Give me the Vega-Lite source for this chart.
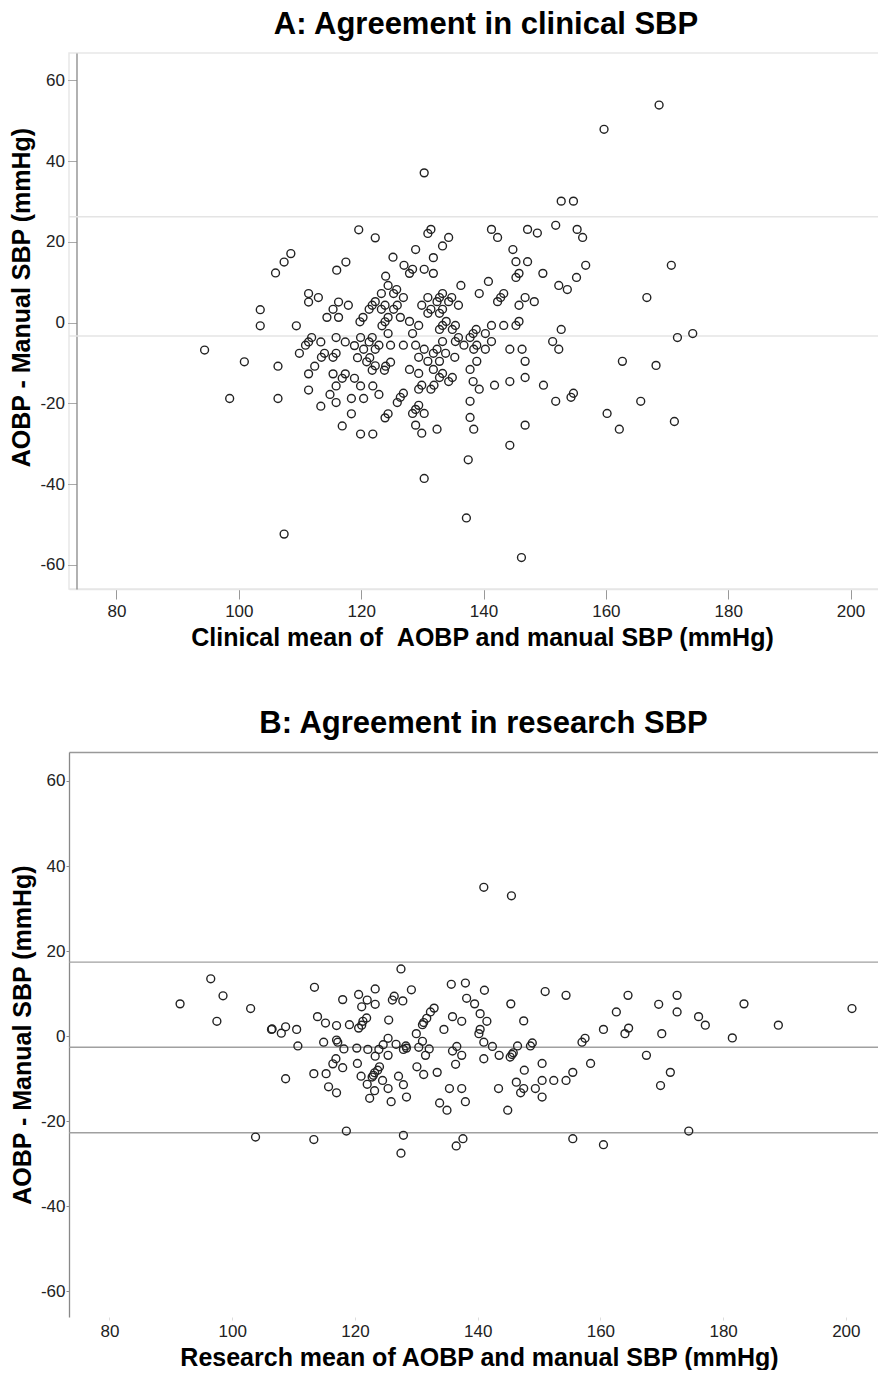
{
  "$schema": "https://vega.github.io/schema/vega-lite/v6.json",
  "background": "white",
  "padding": {"left": 8, "top": 8, "right": 0, "bottom": 0},
  "config": {
    "font": "Liberation Sans",
    "view": {"stroke": null},
    "axis": {"grid": false}
  },
  "datasets": {
    "A": [
      {"x":106.0,"y":12.3},{"x":107.4,"y":15.0},{"x":108.5,"y":17.1},
      {"x":116.0,"y":13.0},{"x":117.5,"y":15.0},{"x":119.6,"y":23.0},{"x":122.3,"y":21.0},{"x":125.2,"y":16.2},{"x":124.0,"y":11.5},
      {"x":94.4,"y":-6.8},{"x":100.9,"y":-9.7},{"x":98.5,"y":-18.8},{"x":106.4,"y":-10.8},{"x":106.4,"y":-18.8},
      {"x":103.5,"y":3.2},{"x":103.5,"y":-0.8},{"x":109.4,"y":-0.8},{"x":107.4,"y":-52.4},{"x":130.3,"y":-38.6},
      {"x":111.4,"y":7.2},{"x":111.4,"y":5.1},{"x":113.0,"y":6.2},{"x":116.3,"y":5.1},{"x":117.9,"y":4.3},{"x":115.4,"y":3.3},
      {"x":114.4,"y":1.3},{"x":116.3,"y":1.3},{"x":124.4,"y":9.2},{"x":125.8,"y":8.2},{"x":125.3,"y":7.2},{"x":123.3,"y":7.2},
      {"x":122.3,"y":5.2},{"x":121.8,"y":4.3},{"x":123.9,"y":4.3},{"x":125.9,"y":4.3},{"x":121.3,"y":3.3},{"x":123.3,"y":3.3},
      {"x":125.3,"y":3.3},{"x":120.3,"y":1.3},{"x":124.4,"y":1.3},{"x":119.8,"y":0.2},{"x":123.9,"y":0.2},{"x":123.4,"y":-0.8},
      {"x":124.4,"y":-2.7},{"x":111.9,"y":-3.7},{"x":111.4,"y":-4.8},{"x":110.9,"y":-5.6},{"x":109.9,"y":-7.6},{"x":113.4,"y":-4.8},
      {"x":115.9,"y":-3.7},{"x":117.4,"y":-4.8},{"x":118.9,"y":-5.7},{"x":119.9,"y":-3.7},{"x":120.4,"y":-6.6},{"x":121.3,"y":-4.8},
      {"x":121.8,"y":-3.7},{"x":122.3,"y":-6.6},{"x":122.9,"y":-5.6},{"x":124.8,"y":-5.6},{"x":113.5,"y":-8.6},{"x":114.0,"y":-7.6},
      {"x":115.9,"y":-7.6},{"x":115.4,"y":-8.6},{"x":112.4,"y":-10.8},{"x":111.4,"y":-12.7},{"x":119.4,"y":-8.7},{"x":120.9,"y":-9.7},
      {"x":121.4,"y":-8.7},{"x":122.3,"y":-10.7},{"x":121.8,"y":-11.8},{"x":124.0,"y":-10.8},{"x":123.8,"y":-11.8},{"x":124.8,"y":-9.8},
      {"x":115.4,"y":-12.7},{"x":117.4,"y":-12.7},{"x":116.9,"y":-13.8},{"x":118.9,"y":-13.8},{"x":115.9,"y":-15.7},{"x":111.4,"y":-16.7},
      {"x":119.9,"y":-15.7},{"x":121.9,"y":-15.7},{"x":122.9,"y":-17.8},{"x":114.9,"y":-17.8},{"x":115.9,"y":-19.8},{"x":113.4,"y":-20.7},
      {"x":118.4,"y":-18.8},{"x":120.4,"y":-18.8},{"x":125.9,"y":-19.8},{"x":118.4,"y":-22.6},{"x":123.9,"y":-23.6},{"x":124.4,"y":-22.6},
      {"x":116.9,"y":-25.6},{"x":119.9,"y":-27.6},{"x":121.9,"y":-27.6},
      {"x":130.3,"y":37.1},{"x":152.7,"y":30.1},{"x":154.7,"y":30.1},{"x":141.3,"y":23.1},{"x":147.2,"y":23.1},{"x":148.8,"y":22.2},
      {"x":151.8,"y":24.1},{"x":155.3,"y":23.1},{"x":156.2,"y":21.1},{"x":142.3,"y":21.1},{"x":130.9,"y":22.1},{"x":131.4,"y":23.1},
      {"x":134.3,"y":21.1},{"x":133.3,"y":19.0},{"x":128.9,"y":18.1},{"x":144.8,"y":18.1},{"x":131.8,"y":16.1},{"x":145.3,"y":15.1},
      {"x":147.2,"y":15.1},{"x":156.7,"y":14.2},{"x":170.7,"y":14.2},{"x":127.0,"y":14.2},{"x":128.4,"y":13.2},{"x":127.9,"y":12.2},
      {"x":130.3,"y":13.2},{"x":131.8,"y":12.2},{"x":145.8,"y":12.2},{"x":145.3,"y":11.2},{"x":149.7,"y":12.2},{"x":155.2,"y":11.2},
      {"x":152.3,"y":9.2},{"x":153.7,"y":8.2},{"x":136.3,"y":9.2},{"x":140.8,"y":10.2},{"x":139.3,"y":7.2},{"x":166.7,"y":6.2},
      {"x":126.9,"y":6.2},{"x":130.9,"y":6.2},{"x":132.8,"y":6.2},{"x":133.3,"y":7.2},{"x":134.8,"y":6.2},{"x":129.9,"y":4.3},
      {"x":131.4,"y":3.3},{"x":130.9,"y":2.3},{"x":132.4,"y":5.2},{"x":133.3,"y":3.3},{"x":132.8,"y":2.3},{"x":134.3,"y":5.2},
      {"x":135.9,"y":4.3},{"x":142.3,"y":5.2},{"x":142.8,"y":6.2},{"x":143.3,"y":7.2},{"x":145.8,"y":4.3},{"x":146.8,"y":6.2},
      {"x":148.3,"y":5.2},{"x":126.4,"y":1.3},{"x":127.9,"y":0.3},{"x":129.4,"y":-0.7},{"x":128.4,"y":-2.7},{"x":132.8,"y":-1.7},
      {"x":133.3,"y":-0.7},{"x":133.9,"y":0.3},{"x":135.4,"y":-0.7},{"x":134.9,"y":-1.7},{"x":138.3,"y":-2.7},{"x":138.8,"y":-1.7},
      {"x":140.3,"y":-2.7},{"x":141.3,"y":-0.7},{"x":143.3,"y":-0.7},{"x":145.3,"y":-0.7},{"x":145.8,"y":0.3},{"x":152.7,"y":-1.7},
      {"x":171.7,"y":-3.7},{"x":174.2,"y":-2.7},{"x":151.3,"y":-4.7},{"x":152.3,"y":-6.6},{"x":126.9,"y":-5.6},{"x":128.9,"y":-5.6},
      {"x":130.3,"y":-6.6},{"x":131.8,"y":-7.6},{"x":132.4,"y":-6.6},{"x":133.8,"y":-7.6},{"x":133.3,"y":-4.7},{"x":135.4,"y":-4.7},
      {"x":135.9,"y":-3.7},{"x":136.8,"y":-5.6},{"x":137.8,"y":-3.7},{"x":138.4,"y":-6.6},{"x":138.9,"y":-5.6},{"x":140.3,"y":-6.6},
      {"x":141.3,"y":-4.7},{"x":144.3,"y":-6.6},{"x":146.3,"y":-6.6},{"x":162.7,"y":-9.6},{"x":168.2,"y":-10.6},{"x":129.4,"y":-8.6},
      {"x":130.9,"y":-9.6},{"x":132.8,"y":-9.6},{"x":135.3,"y":-8.6},{"x":138.9,"y":-9.6},{"x":146.8,"y":-9.6},{"x":127.9,"y":-11.6},
      {"x":129.4,"y":-12.6},{"x":131.8,"y":-11.6},{"x":133.3,"y":-12.6},{"x":132.8,"y":-13.6},{"x":134.9,"y":-13.6},{"x":134.3,"y":-14.6},
      {"x":137.8,"y":-11.6},{"x":138.3,"y":-14.6},{"x":139.3,"y":-16.5},{"x":141.8,"y":-15.5},{"x":144.3,"y":-14.6},{"x":146.8,"y":-13.6},
      {"x":149.8,"y":-15.5},{"x":126.9,"y":-17.5},{"x":126.4,"y":-18.5},{"x":129.4,"y":-16.5},{"x":129.9,"y":-15.5},{"x":131.4,"y":-16.5},
      {"x":131.9,"y":-15.5},{"x":129.4,"y":-20.5},{"x":128.9,"y":-21.5},{"x":128.4,"y":-22.5},{"x":130.3,"y":-22.5},{"x":128.9,"y":-25.4},
      {"x":129.9,"y":-27.4},{"x":132.4,"y":-26.4},{"x":137.8,"y":-19.5},{"x":137.8,"y":-23.5},{"x":138.4,"y":-26.4},{"x":144.3,"y":-30.4},
      {"x":146.8,"y":-25.4},{"x":151.8,"y":-19.5},{"x":154.3,"y":-18.5},{"x":154.7,"y":-17.5},{"x":160.2,"y":-22.5},{"x":162.2,"y":-26.4},
      {"x":165.7,"y":-19.5},{"x":171.2,"y":-24.5},
      {"x":159.7,"y":47.9},{"x":168.7,"y":53.9},{"x":137.5,"y":-34.0},{"x":137.2,"y":-48.4},{"x":146.2,"y":-58.2}
    ],
    "B": [
      {"x":91.5,"y":7.6},{"x":96.5,"y":13.5},{"x":98.5,"y":9.5},{"x":97.5,"y":3.5},{"x":103.0,"y":6.5},{"x":106.4,"y":1.6},
      {"x":106.5,"y":1.7},{"x":108.0,"y":0.7},{"x":108.7,"y":2.2},{"x":110.5,"y":1.6},{"x":110.7,"y":-2.3},{"x":108.7,"y":-10.0},
      {"x":113.4,"y":11.5},{"x":113.9,"y":4.6},{"x":115.2,"y":3.1},{"x":117.0,"y":2.5},{"x":119.1,"y":2.7},{"x":114.9,"y":-1.4},
      {"x":117.0,"y":-0.9},{"x":117.2,"y":-1.4},{"x":118.2,"y":-3.0},{"x":120.3,"y":-2.8},{"x":122.1,"y":-3.1},{"x":123.9,"y":-3.1},
      {"x":125.4,"y":-0.5},{"x":124.6,"y":-2.0},{"x":126.7,"y":-1.9},{"x":127.9,"y":-3.1},{"x":128.3,"y":-2.3},{"x":128.4,"y":-2.8},
      {"x":118.0,"y":8.6},{"x":120.6,"y":9.8},{"x":122.0,"y":8.5},{"x":123.3,"y":11.1},{"x":123.3,"y":7.5},{"x":121.1,"y":6.9},
      {"x":121.9,"y":4.3},{"x":121.3,"y":3.5},{"x":120.6,"y":1.9},{"x":121.1,"y":2.6},{"x":126.1,"y":8.5},{"x":126.4,"y":9.4},
      {"x":127.8,"y":8.3},{"x":129.2,"y":10.9},{"x":127.5,"y":15.8},{"x":125.5,"y":3.8},{"x":130.0,"y":0.6},{"x":131.0,"y":2.7},
      {"x":131.2,"y":3.2},{"x":131.7,"y":4.2},{"x":132.3,"y":5.7},{"x":132.9,"y":6.6},{"x":130.4,"y":-2.6},{"x":131.0,"y":-1.2},
      {"x":132.1,"y":-3.0},{"x":131.5,"y":-4.5},{"x":134.5,"y":1.6},{"x":135.9,"y":4.6},{"x":137.4,"y":3.5},{"x":135.7,"y":12.2},
      {"x":138.0,"y":12.5},{"x":138.2,"y":8.9},{"x":139.5,"y":7.6},{"x":141.1,"y":10.8},{"x":140.4,"y":5.3},{"x":141.5,"y":3.5},
      {"x":140.2,"y":0.6},{"x":140.4,"y":1.6},{"x":141.0,"y":-1.4},{"x":142.4,"y":-2.4},{"x":135.9,"y":-3.5},{"x":136.6,"y":-2.4},
      {"x":137.4,"y":-4.5},{"x":136.4,"y":-6.6},{"x":141.0,"y":-5.3},{"x":143.5,"y":-4.5},{"x":145.3,"y":-4.9},{"x":145.6,"y":-4.3},
      {"x":145.8,"y":-3.9},{"x":146.5,"y":-2.3},{"x":148.6,"y":-2.3},{"x":148.9,"y":-1.6},{"x":145.4,"y":7.6},{"x":147.5,"y":3.6},
      {"x":151.0,"y":10.5},{"x":154.4,"y":9.6},{"x":157.0,"y":-1.4},{"x":157.5,"y":-0.5},{"x":160.5,"y":1.6},{"x":162.6,"y":5.7},
      {"x":164.5,"y":9.6},{"x":164.6,"y":1.9},{"x":164.0,"y":0.6},{"x":169.5,"y":7.5},{"x":172.5,"y":9.6},{"x":172.5,"y":5.7},
      {"x":170.0,"y":0.6},{"x":176.0,"y":4.6},{"x":177.1,"y":2.6},{"x":181.5,"y":-0.4},{"x":183.4,"y":7.6},{"x":189.0,"y":2.6},
      {"x":201.0,"y":6.5},{"x":167.5,"y":-4.5},{"x":171.4,"y":-8.5},{"x":169.8,"y":-11.6},{"x":158.4,"y":-6.4},{"x":155.5,"y":-8.5},
      {"x":154.4,"y":-10.4},{"x":152.4,"y":-10.4},{"x":150.5,"y":-10.4},{"x":150.5,"y":-6.4},{"x":147.6,"y":-8.0},{"x":146.3,"y":-10.8},
      {"x":147.5,"y":-12.3},{"x":147.0,"y":-13.3},{"x":149.4,"y":-12.3},{"x":150.5,"y":-14.3},{"x":143.4,"y":-12.3},{"x":144.9,"y":-17.4},
      {"x":137.4,"y":-12.3},{"x":135.4,"y":-12.3},{"x":138.0,"y":-15.4},{"x":133.8,"y":-15.7},{"x":135.0,"y":-17.4},{"x":133.4,"y":-8.5},
      {"x":131.2,"y":-9.0},{"x":130.1,"y":-7.2},{"x":127.9,"y":-11.4},{"x":127.1,"y":-9.4},{"x":128.4,"y":-14.3},{"x":125.9,"y":-15.4},
      {"x":124.5,"y":-10.4},{"x":125.4,"y":-12.3},{"x":123.2,"y":-12.8},{"x":122.4,"y":-14.6},{"x":124.0,"y":-7.2},{"x":123.7,"y":-8.0},
      {"x":123.0,"y":-9.2},{"x":123.2,"y":-8.6},{"x":122.8,"y":-9.6},{"x":122.0,"y":-11.3},{"x":121.0,"y":-9.4},{"x":123.3,"y":-4.7},
      {"x":125.4,"y":-4.5},{"x":120.4,"y":-6.4},{"x":118.0,"y":-7.4},{"x":116.9,"y":-5.3},{"x":116.4,"y":-6.5},{"x":115.3,"y":-8.8},
      {"x":113.3,"y":-8.8},{"x":115.7,"y":-11.9},{"x":117.0,"y":-13.3},{"x":118.6,"y":-22.3},{"x":103.8,"y":-23.7},{"x":113.3,"y":-24.3},
      {"x":127.9,"y":-23.3},{"x":137.6,"y":-24.1},{"x":155.5,"y":-24.1},{"x":174.4,"y":-22.3},{"x":127.5,"y":-27.5},{"x":136.5,"y":-25.8},
      {"x":160.5,"y":-25.5},{"x":141.0,"y":35.0},{"x":145.5,"y":33.0}
    ],
    "limA": [{"v":26.2},{"v":-3.3}],
    "limB": [{"v":17.4},{"v":-2.6},{"v":-22.7}]
  },
  "spacing": 57,
  "columns": 1,
  "align": "none",
  "bounds": "full",
  "concat": [
    {
      "width": 810,
      "height": 536,
      "title": {"text": "A: Agreement in clinical SBP", "fontSize": 31, "fontWeight": "bold", "font": "Liberation Sans", "color": "#000", "anchor": "middle", "frame": "group", "baseline": "alphabetic", "offset": -12, "dx": 12},
      "view": {"stroke": "#e8e8e8", "strokeWidth": 1.5},
      "layer": [
        {
          "data": {"name": "limA"},
          "mark": {"type": "rule", "color": "#e4e4e4", "strokeWidth": 1.5},
          "encoding": {"y": {"field": "v", "type": "quantitative"}}
        },
        {
          "data": {"name": "A"},
          "mark": {"type": "point", "shape": "circle", "filled": false, "size": 62, "strokeWidth": 1.4, "color": "#222", "opacity": 1},
          "encoding": {
            "x": {"field": "x", "type": "quantitative",
              "scale": {"domain": [72.235, 204.65], "nice": false, "zero": false},
              "axis": {"values": [80,100,120,140,160,180,200], "labelExpr": "'' + datum.value", "domainColor": "#e6e6e6", "domainWidth": 1.5, "tickColor": "#999", "tickSize": 10, "labelPadding": 4, "labelFontSize": 17, "labelColor": "#222", "title": "Clinical mean of \u00a0AOBP and manual SBP (mmHg)", "titleFontSize": 25, "titleFontWeight": "bold", "titleColor": "#000", "titlePadding": 6, "titleX": 413}},
            "y": {"field": "y", "type": "quantitative",
              "scale": {"domain": [-66, 66.8], "nice": false, "zero": false},
              "axis": {"values": [-60,-40,-20,0,20,40,60], "offset": -7.5, "labelExpr": "'' + datum.value", "domainColor": "#888", "domainWidth": 1.3, "tickColor": "#aaa", "tickSize": 9, "labelPadding": 3, "labelFontSize": 17, "labelColor": "#222", "title": "AOBP - Manual SBP (mmHg)", "titleFontSize": 25, "titleFontWeight": "bold", "titleColor": "#000", "titleX": -42, "titleY": 244}}
          }
        }
      ]
    },
    {
      "width": 809,
      "height": 565,
      "title": {"text": "B: Agreement in research SBP", "fontSize": 31, "fontWeight": "bold", "font": "Liberation Sans", "color": "#000", "anchor": "middle", "frame": "group", "baseline": "alphabetic", "offset": -12, "dx": 10},
      "resolve": {"axis": {"x": "independent"}},
      "layer": [
        {
          "data": {"name": "limB"},
          "mark": {"type": "rule", "color": "#a0a0a0", "strokeWidth": 1.4},
          "encoding": {"y": {"field": "v", "type": "quantitative"}}
        },
        {
          "data": {"name": "B"},
          "mark": {"type": "point", "opacity": 0},
          "encoding": {
            "x": {"field": "x", "type": "quantitative",
              "scale": {"domain": [73.4, 205.24], "nice": false, "zero": false},
              "axis": {"orient": "top", "labels": false, "ticks": false, "title": null, "domainColor": "#999", "domainWidth": 1.5}},
            "y": {"field": "y", "type": "quantitative"}
          }
        },
        {
          "data": {"name": "B"},
          "mark": {"type": "point", "shape": "circle", "filled": false, "size": 62, "strokeWidth": 1.4, "color": "#222", "opacity": 1},
          "encoding": {
            "x": {"field": "x", "type": "quantitative",
              "scale": {"domain": [73.4, 205.24], "nice": false, "zero": false},
              "axis": {"values": [80,100,120,140,160,180,200], "labelExpr": "'' + datum.value", "domain": false, "tickColor": "#ddd", "tickSize": 3, "labelPadding": 3, "labelFontSize": 17, "labelColor": "#222", "title": "Research mean of AOBP and manual SBP (mmHg)", "titleFontSize": 25, "titleFontWeight": "bold", "titleColor": "#000", "titlePadding": 6, "titleX": 410}},
            "y": {"field": "y", "type": "quantitative",
              "scale": {"domain": [-66, 66.8], "nice": false, "zero": false},
              "axis": {"values": [-60,-40,-20,0,20,40,60], "labelExpr": "'' + datum.value", "domainColor": "#888", "domainWidth": 1.3, "tickColor": "#888", "tickSize": 3, "labelPadding": 1, "labelFontSize": 17, "labelColor": "#222", "title": "AOBP - Manual SBP (mmHg)", "titleFontSize": 25, "titleFontWeight": "bold", "titleColor": "#000", "titleX": -34}}
          }
        }
      ]
    }
  ]
}
